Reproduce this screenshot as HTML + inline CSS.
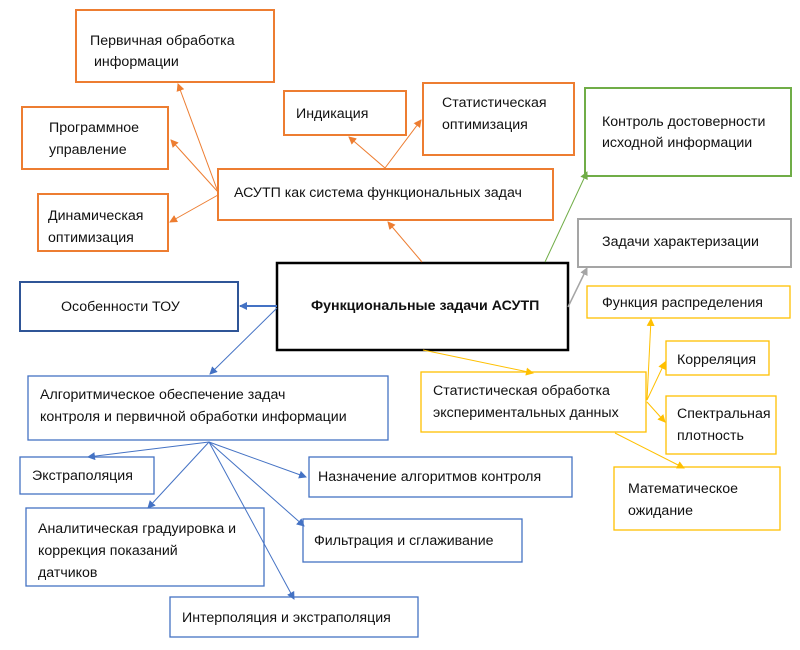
<!DOCTYPE html>
<html><head><meta charset="utf-8"><style>
body{margin:0;background:#fff;width:800px;height:645px;overflow:hidden}
svg text{font-family:"Liberation Sans","DejaVu Sans",sans-serif;font-size:14.2px;fill:#111}
</style></head><body>
<svg width="800" height="645" viewBox="0 0 800 645" xmlns="http://www.w3.org/2000/svg">
<defs>
<marker id="ao" markerWidth="8" markerHeight="8" refX="7" refY="4" orient="auto" markerUnits="userSpaceOnUse"><path d="M0,0 L8,4 L0,8 z" fill="#ED7D31"/></marker>
<marker id="ag" markerWidth="8" markerHeight="8" refX="7" refY="4" orient="auto" markerUnits="userSpaceOnUse"><path d="M0,0 L8,4 L0,8 z" fill="#70AD47"/></marker>
<marker id="ay" markerWidth="8" markerHeight="8" refX="7" refY="4" orient="auto" markerUnits="userSpaceOnUse"><path d="M0,0 L8,4 L0,8 z" fill="#A5A5A5"/></marker>
<marker id="ab" markerWidth="8" markerHeight="8" refX="7" refY="4" orient="auto" markerUnits="userSpaceOnUse"><path d="M0,0 L8,4 L0,8 z" fill="#4472C4"/></marker>
<marker id="au" markerWidth="8" markerHeight="8" refX="7" refY="4" orient="auto" markerUnits="userSpaceOnUse"><path d="M0,0 L8,4 L0,8 z" fill="#FFC000"/></marker>
</defs>
<g fill="none" stroke-width="2" stroke="#ED7D31">
<rect x="76" y="10" width="198" height="72"/>
<rect x="22" y="107" width="146" height="62"/>
<rect x="38" y="194" width="130" height="57"/>
<rect x="284" y="91" width="122" height="44"/>
<rect x="423" y="83" width="151" height="72"/>
<rect x="218" y="169" width="335" height="51"/>
</g>
<rect x="585" y="88" width="206" height="88" fill="none" stroke="#70AD47" stroke-width="2"/>
<rect x="578" y="219" width="213" height="48" fill="none" stroke="#A5A5A5" stroke-width="2"/>
<rect x="277" y="263" width="291" height="87" fill="none" stroke="#000" stroke-width="2.5"/>
<rect x="20" y="282" width="218" height="49" fill="none" stroke="#2F5597" stroke-width="2"/>
<g fill="none" stroke="#FFC000" stroke-width="1.3">
<rect x="587" y="286" width="203" height="32"/>
<rect x="666" y="341" width="103" height="34"/>
<rect x="666" y="396" width="110" height="58"/>
<rect x="421" y="372" width="225" height="60"/>
<rect x="614" y="467" width="166" height="63"/>
</g>
<g fill="none" stroke="#4472C4" stroke-width="1.3">
<rect x="28" y="376" width="360" height="64"/>
<rect x="20" y="457" width="134" height="37"/>
<rect x="309" y="457" width="263" height="40"/>
<rect x="26" y="508" width="238" height="78"/>
<rect x="303" y="519" width="219" height="43"/>
<rect x="170" y="597" width="248" height="40"/>
</g>
<g stroke-width="1">
<line x1="218" y1="192" x2="178" y2="84" stroke="#ED7D31" marker-end="url(#ao)"/>
<line x1="218" y1="192" x2="171" y2="140" stroke="#ED7D31" marker-end="url(#ao)"/>
<line x1="218" y1="195" x2="170" y2="222" stroke="#ED7D31" marker-end="url(#ao)"/>
<line x1="385" y1="168" x2="349" y2="137" stroke="#ED7D31" marker-end="url(#ao)"/>
<line x1="385" y1="168" x2="421" y2="120" stroke="#ED7D31" marker-end="url(#ao)"/>
<line x1="422" y1="262" x2="388" y2="222" stroke="#ED7D31" marker-end="url(#ao)"/>
<line x1="545" y1="262" x2="587" y2="172" stroke="#70AD47" marker-end="url(#ag)"/>
<line x1="568" y1="307" x2="587" y2="268" stroke="#A5A5A5" stroke-width="1.5" marker-end="url(#ay)"/>
<line x1="277" y1="306" x2="240" y2="306" stroke="#4472C4" stroke-width="2" marker-end="url(#ab)"/>
<line x1="277" y1="308" x2="210" y2="374" stroke="#4472C4" marker-end="url(#ab)"/>
<line x1="209" y1="442" x2="88" y2="457" stroke="#4472C4" marker-end="url(#ab)"/>
<line x1="209" y1="442" x2="148" y2="508" stroke="#4472C4" marker-end="url(#ab)"/>
<line x1="209" y1="442" x2="306" y2="477" stroke="#4472C4" marker-end="url(#ab)"/>
<line x1="209" y1="442" x2="304" y2="526" stroke="#4472C4" marker-end="url(#ab)"/>
<line x1="209" y1="442" x2="294" y2="599" stroke="#4472C4" marker-end="url(#ab)"/>
<line x1="423" y1="350" x2="533" y2="373" stroke="#FFC000" marker-end="url(#au)"/>
<line x1="647" y1="400" x2="651" y2="319" stroke="#FFC000" marker-end="url(#au)"/>
<line x1="647" y1="400" x2="665" y2="362" stroke="#FFC000" marker-end="url(#au)"/>
<line x1="647" y1="402" x2="665" y2="422" stroke="#FFC000" marker-end="url(#au)"/>
<line x1="615" y1="433" x2="684" y2="468" stroke="#FFC000" marker-end="url(#au)"/>
</g>
<text x="90" y="45">Первичная обработка</text>
<text x="94" y="66">информации</text>
<text x="49" y="132">Программное</text>
<text x="49" y="154">управление</text>
<text x="48" y="220">Динамическая</text>
<text x="48" y="242">оптимизация</text>
<text x="296" y="118">Индикация</text>
<text x="442" y="107">Статистическая</text>
<text x="442" y="129">оптимизация</text>
<text x="234" y="197">АСУТП как система функциональных задач</text>
<text x="602" y="126">Контроль достоверности</text>
<text x="602" y="147">исходной информации</text>
<text x="602" y="246">Задачи характеризации</text>
<text x="311" y="310" style="font-weight:bold">Функциональные задачи АСУТП</text>
<text x="61" y="311">Особенности ТОУ</text>
<text x="602" y="307">Функция распределения</text>
<text x="677" y="364">Корреляция</text>
<text x="677" y="418">Спектральная</text>
<text x="677" y="440">плотность</text>
<text x="433" y="395">Статистическая обработка</text>
<text x="433" y="417">экспериментальных данных</text>
<text x="628" y="493">Математическое</text>
<text x="628" y="515">ожидание</text>
<text x="40" y="399">Алгоритмическое обеспечение задач</text>
<text x="40" y="421">контроля и первичной обработки информации</text>
<text x="32" y="480">Экстраполяция</text>
<text x="318" y="481">Назначение алгоритмов контроля</text>
<text x="38" y="533">Аналитическая градуировка и</text>
<text x="38" y="555">коррекция показаний</text>
<text x="38" y="577">датчиков</text>
<text x="314" y="545">Фильтрация и сглаживание</text>
<text x="182" y="622">Интерполяция и экстраполяция</text>
</svg>
</body></html>
